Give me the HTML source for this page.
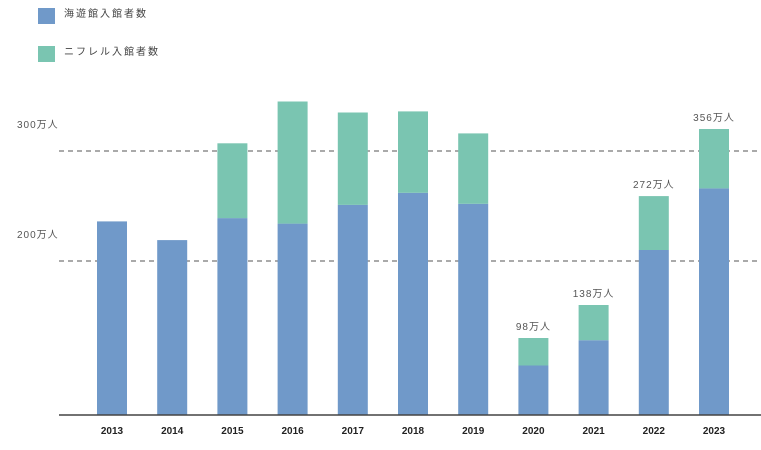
<!DOCTYPE html>
<html><head><meta charset="utf-8">
<style>
html,body{margin:0;padding:0;background:#fff;}
svg{display:block;font-family:"Liberation Sans","Noto Sans CJK JP",sans-serif;}
</style></head>
<body>
<svg id="chart" width="761" height="450">
  <rect x="38" y="8" width="17" height="16" fill="#7099c9"/>
  <text x="64" y="17" font-size="10" fill="#444" letter-spacing="2">海遊館入館者数</text>
  <rect x="38" y="46" width="17" height="16" fill="#7ac5b1"/>
  <text x="64" y="55" font-size="10" fill="#444" letter-spacing="2">ニフレル入館者数</text>
  <g id="grid"></g>
  <g id="bars"></g>
  <line x1="59" y1="415" x2="761" y2="415" stroke="#444" stroke-width="1.5"/>
  <g id="labels"></g>
</svg>
<script>
const years = ["2013","2014","2015","2016","2017","2018","2019","2020","2021","2022","2023"];
const aquarium = [236,219,239,234,251,262,252,105,128,210,266];
const nifrel = [0,0,68,111,84,74,64,25,32,49,54];
const totalLabels = ["","","","","","","","98万人","138万人","272万人","356万人"];
const gridValues = [200,300];
const gridLabels = ["200万人","300万人"];

const NS = "http://www.w3.org/2000/svg";
const y0 = 415, vmin = 60, k = 1.1;
function yScale(v){ return y0 - (v - vmin) * k; }
function xCenter(i){ return 112 + i * 60.2; }
const bw = 30;
function mk(tag, attrs, parent){
  const e = document.createElementNS(NS, tag);
  for (const a in attrs) e.setAttribute(a, attrs[a]);
  parent.appendChild(e); return e;
}
const grid = document.getElementById('grid');
const bars = document.getElementById('bars');
const labels = document.getElementById('labels');

gridValues.forEach((v, i) => {
  const y = yScale(v);
  const l = mk('line', {x1:59, x2:761, y1:y, y2:y, stroke:'#777', 'stroke-width':1.3, 'stroke-dasharray':'5,4'}, grid);
  
  
  const t = mk('text', {x:17, y:y - 23, 'font-size':10, fill:'#555', 'letter-spacing':1}, grid);
  t.textContent = gridLabels[i];
  
  
});

years.forEach((yr, i) => {
  const cx = xCenter(i);
  const yb = yScale(aquarium[i]);
  const r1 = mk('rect', {x:cx - bw/2, y:yb, width:bw, height:y0 - yb, fill:'#7099c9'}, bars);
  
  
  let top = yb;
  if (nifrel[i] > 0) {
    const yt = yScale(aquarium[i] + nifrel[i]);
    const r2 = mk('rect', {x:cx - bw/2, y:yt, width:bw, height:yb - yt, fill:'#7ac5b1'}, bars);
    
    
    top = yt;
  }
  const t = mk('text', {x:cx, y:434, 'font-size':10, 'font-weight':'bold', fill:'#222', 'text-anchor':'middle'}, labels);
  t.textContent = yr;
  
  
  if (totalLabels[i]) {
    const tl = mk('text', {x:cx, y:top - 8, 'font-size':10, fill:'#555', 'text-anchor':'middle', 'letter-spacing':1}, labels);
    tl.textContent = totalLabels[i];
    
    
  }
});
</script>
</body></html>
